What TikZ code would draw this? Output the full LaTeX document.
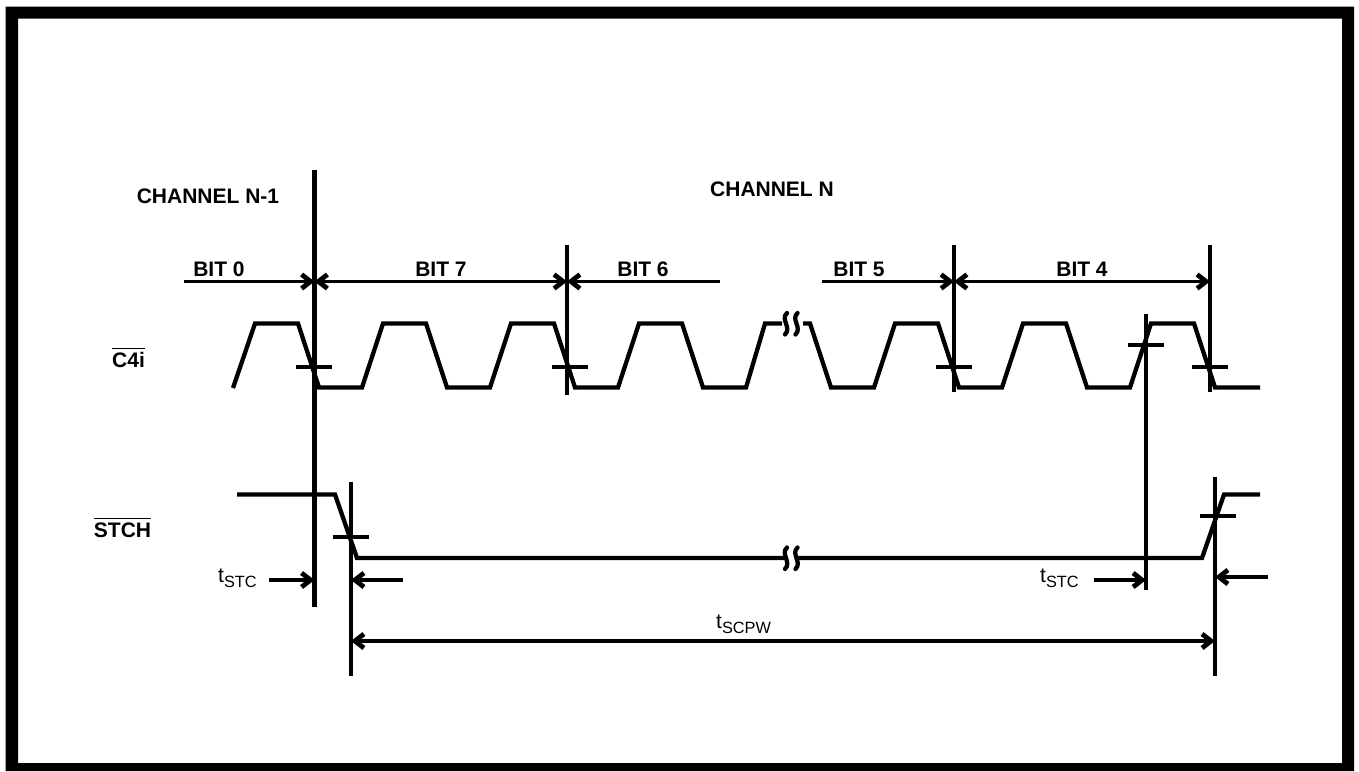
\documentclass[tikz,border=0pt]{standalone}
\usepackage{fontspec}
\setmainfont{Liberation Sans}
\usetikzlibrary{arrows.meta}
\newcommand{\boldtext}{\fontsize{21}{21}\selectfont\bfseries}
\newcommand{\timelabel}[1]{\fontsize{21}{21}\selectfont t\raisebox{-5.5pt}{\fontsize{16.3}{16.3}\selectfont #1}}
\newcommand{\barred}[1]{\setbox0=\hbox{#1}\rlap{\rule[18pt]{\wd0}{1.5pt}}\box0}
\tikzset{
	sig/.style={line width=4.3pt, line join=miter},
	mark line/.style={line width=4.3pt},
	dim/.style={line width=3.7pt},
	head/.style={font=\boldtext, anchor=base, inner sep=0pt},
	time/.style={anchor=base west, inner sep=0pt},
	breakmark/.pic={
		\draw [line width=4.3pt, line cap=round] (1,-10.5) .. controls (-6,-4) and (6,4) .. (-1,11);
		\draw [line width=4.3pt, line cap=round] (11.5,-10.5) .. controls (4.5,-4) and (16.5,4) .. (9.5,11);
	}
}

\begin{document}
\begin{tikzpicture}[x=1pt, y=-1pt, > = {Straight Barb[length=9pt, width=14pt, line width=4.8pt]}]
	\useasboundingbox (0,0) rectangle (1359,771);
	\fill [even odd rule] (5.5,6.5) rectangle (1354,771) (18,18.5) rectangle (1342,763);

	% markers
	\coordinate (m0) at (314.5,281.5);
	\coordinate (m7) at (567,281.5);
	\coordinate (m5) at (954,281.5);
	\coordinate (m4) at (1210,281.5);
	\coordinate (bit0) at (184,281.5);
	\coordinate (bit6) at (720,281.5);
	\coordinate (bit5) at (822,281.5);
	\coordinate (fallA) at (351,580);
	\coordinate (fallB) at (1146,580);
	\coordinate (riseA) at (1215,577);
	\coordinate (pwA) at (351,641);
	\coordinate (pwB) at (1215,641);
	\coordinate (stcA) at (269,580);
	\coordinate (stcB) at (403,580);
	\coordinate (stcC) at (1094,580);
	\coordinate (stcD) at (1268,577);

	\draw [mark line] (314.5,170) -- (314.5,607);
	\draw [mark line] (567,245) -- (567,395);
	\draw [mark line] (954,245) -- (954,392);
	\draw [mark line] (1210,245) -- (1210,392);
	\draw [mark line] (1146,314) -- (1146,590);
	\draw [mark line] (351,482) -- (351,676);
	\draw [mark line] (1215,477) -- (1215,676);

	\draw [mark line] (296,367) -- (332,367);
	\draw [mark line] (552,367) -- (588,367);
	\draw [mark line] (936,367) -- (972,367);
	\draw [mark line] (1192,367) -- (1228,367);
	\draw [mark line] (1128,345) -- (1164,345);
	\draw [mark line] (333,537) -- (369,537);
	\draw [mark line] (1200,516) -- (1236,516);

	% C4i
	\draw [sig] (233,388) -- (255,323.5) -- (298,323.5) -- (319,387.5) -- (362,387.5) -- (383,323.5) -- (426,323.5) -- (447,387.5) -- (490,387.5) -- (511,323.5) -- (554,323.5) -- (575,387.5) -- (618,387.5) -- (639,323.5) -- (682,323.5) -- (703,387.5) -- (746,387.5) -- (765,323.5) -- (782,323.5);
	\draw [sig] (803,323.5) -- (810,323.5) -- (831,387.5) -- (874,387.5) -- (895,323.5) -- (938,323.5) -- (959,387.5) -- (1002,387.5) -- (1023,323.5) -- (1066,323.5) -- (1087,387.5) -- (1130,387.5) -- (1151,323.5) -- (1194,323.5) -- (1215,387.5) -- (1260,387.5);
	\pic at (786,323.5) {breakmark};

	% STCH
	\draw [sig] (237,494.5) -- (335,494.5) -- (357,558) -- (786,558);
	\draw [sig] (797,558) -- (1202,558) -- (1224,494.5) -- (1260,494.5);
	\pic at (786,558) {breakmark};

	% arrows
	\draw [->, dim] (bit0) -- (m0);
	\draw [<->, dim] (m0) -- (m7);
	\draw [<-, dim] (m7) -- (bit6);
	\draw [->, dim] (bit5) -- (m5);
	\draw [<->, dim] (m5) -- (m4);
	\draw [->, dim] (stcA) -- (m0 |- stcA);
	\draw [->, dim] (stcB) -- (fallA);
	\draw [->, dim] (stcC) -- (fallB);
	\draw [->, dim] (stcD) -- (riseA);
	\draw [<->, dim] (pwA) -- (pwB);

	% text
	\node [head] (chanA) at (208,203) {CHANNEL N-1};
	\node [head] (chanB) at (772,196) {CHANNEL N};
	\node [head] (txt0) at (219,276) {BIT 0};
	\node [head] (txt7) at (441,276) {BIT 7};
	\node [head] (txt6) at (643,276) {BIT 6};
	\node [head] (txt5) at (859,276) {BIT 5};
	\node [head] (txt4) at (1082,276) {BIT 4};
	\node [head] (clk) at (128.5,367) {\barred{C4i}};
	\node [head] (stb) at (122.5,537) {\barred{STCH}};
	\node [time] (tA) at (218,582) {\timelabel{STC}};
	\node [time] (tB) at (1040,582) {\timelabel{STC}};
	\node [time] (tC) at (716,628) {\timelabel{SCPW}};
\end{tikzpicture}
\end{document}
